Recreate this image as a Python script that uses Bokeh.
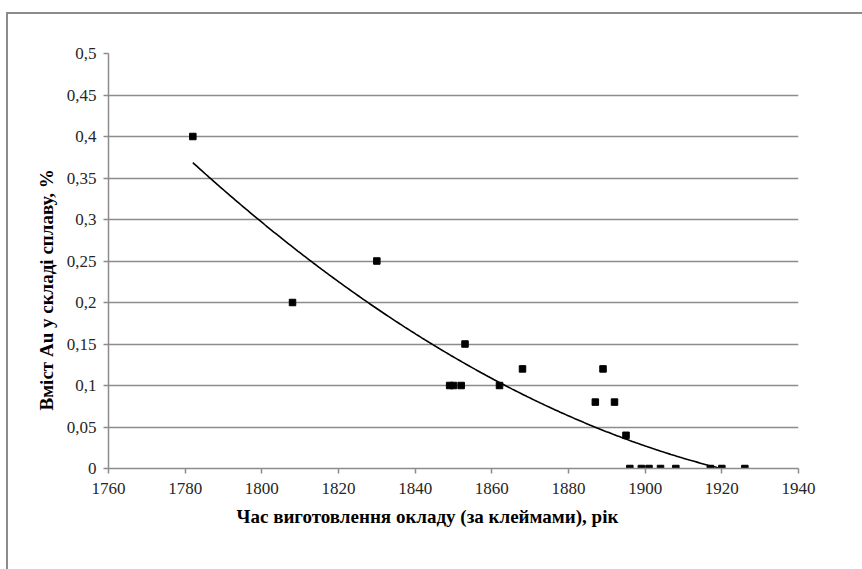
import numpy as np
from bokeh.plotting import figure
from bokeh.models import FixedTicker, Title, InlineStyleSheet, ColumnDataSource, Range1d
from bokeh.embed import file_html
from bokeh.resources import INLINE

# Year of manufacture (by hallmarks) and Au content of the alloy, %
years = [1782, 1808, 1830, 1849, 1850, 1852, 1853, 1862, 1868, 1887, 1889,
         1892, 1895, 1896, 1899, 1901, 1904, 1908, 1917, 1920, 1926]
au_pct = [0.40, 0.20, 0.25, 0.10, 0.10, 0.10, 0.15, 0.10, 0.12, 0.08, 0.12,
          0.08, 0.04, 0.0, 0.0, 0.0, 0.0, 0.0, 0.0, 0.0, 0.0]

x_ticks = [1760, 1780, 1800, 1820, 1840, 1860, 1880, 1900, 1920, 1940]
x_labels = ["1760", "1780", "1800", "1820", "1840", "1860", "1880", "1900", "1920", "1940"]
y_ticks = [0, 0.05, 0.1, 0.15, 0.2, 0.25, 0.3, 0.35, 0.4, 0.45, 0.5]
y_labels = ["0", "0,05", "0,1", "0,15", "0,2", "0,25", "0,3", "0,35", "0,4", "0,45", "0,5"]

x_title = "Час виготовлення окладу (за клеймами), рік"
y_title = "Вміст Au у складі сплаву, %"

# second-order polynomial trend through the measurements
yr = np.array(years, dtype=float)
coef = np.polyfit(yr - 1850.0, np.array(au_pct), 2)
trend_x = np.linspace(yr.min(), yr.max(), 300)
trend_y = np.polyval(coef, trend_x - 1850.0)

SERIF = "'Liberation Serif', 'Times New Roman', serif"
GRID = "#8c8c8c"

p = figure(frame_width=690, frame_height=415,
           min_border_left=108, min_border_right=64,
           min_border_top=53, min_border_bottom=101,
           x_range=Range1d(1760, 1940), y_range=Range1d(0, 0.5),
           output_backend="svg", toolbar_location=None)

p.outline_line_color = None
p.background_fill_color = "white"
p.border_fill_color = "white"

p.xgrid.grid_line_color = None
p.ygrid.grid_line_color = GRID
p.ygrid.grid_line_width = 1.5

p.xaxis.ticker = FixedTicker(ticks=x_ticks)
p.yaxis.ticker = FixedTicker(ticks=y_ticks)
p.xaxis.major_label_overrides = {t: l for t, l in zip(x_ticks, x_labels)}
p.yaxis.major_label_overrides = {t: l for t, l in zip(y_ticks, y_labels)}

for ax in (p.xaxis[0], p.yaxis[0]):
    ax.axis_line_color = GRID
    ax.axis_line_width = 1.5
    ax.major_tick_line_color = GRID
    ax.major_tick_line_width = 1.5
    ax.major_tick_out = 5
    ax.major_tick_in = 0
    ax.minor_tick_line_color = None
    ax.major_label_text_font = SERIF
    ax.major_label_text_font_size = "17px"
    ax.major_label_text_color = "#262626"
p.xaxis.major_label_standoff = 9
p.yaxis.major_label_standoff = 7

# trend line and measured points
p.line(trend_x, trend_y, line_color="black", line_width=1.6)
src = ColumnDataSource(dict(x=years, y=au_pct))
p.scatter("x", "y", source=src, marker="square", size=6.5,
          fill_color="black", line_color="black")

# axis titles, centred on the whole chart area rather than the frame
p.add_layout(Title(text=x_title, align="left", offset=128,
                   text_font=SERIF, text_font_size="19px",
                   text_font_style="bold", text_color="black",
                   standoff=15), "below")
p.add_layout(Title(text=y_title, align="left", offset=58,
                   text_font=SERIF, text_font_size="19px",
                   text_font_style="bold", text_color="black",
                   standoff=14), "left")

# chart-area frame line
p.stylesheets = [InlineStyleSheet(css=(
    ":host::after{content:'';position:absolute;left:6px;top:12px;"
    "width:856px;height:557px;border-left:2px solid #8c8c8c;"
    "border-top:2px solid #8c8c8c;box-sizing:border-box;pointer-events:none}"))]

open("out.html", "w").write(file_html(p, INLINE))
